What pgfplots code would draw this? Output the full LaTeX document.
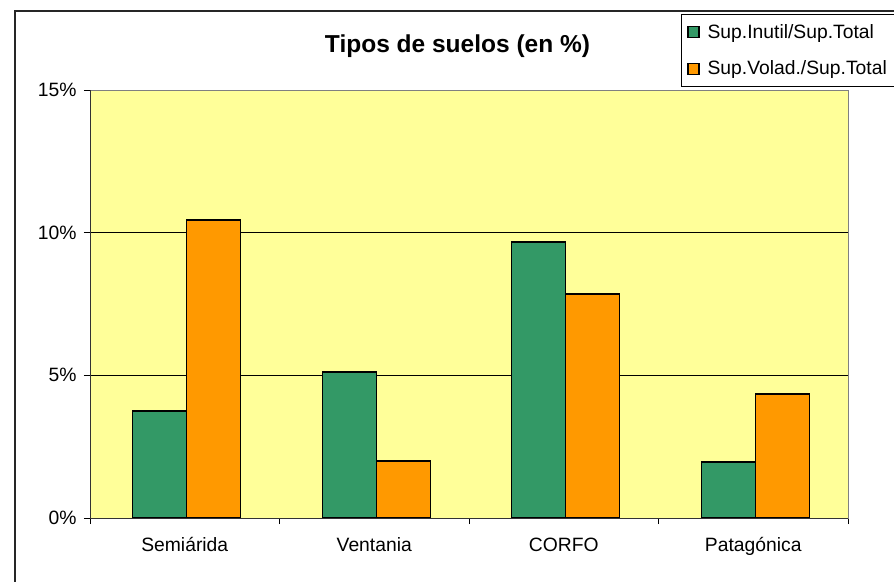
\documentclass[border=0pt]{standalone}
\usepackage{fontspec}
\setmainfont{Liberation Sans}
\usepackage{pgfplots}
\pgfplotsset{compat=1.18}
\definecolor{barGreen}{HTML}{339966}
\definecolor{barOrange}{HTML}{FF9900}
\definecolor{plotBg}{HTML}{FFFF99}

\begin{document}
\begin{tikzpicture}[x=1pt,y=1pt]
  \useasboundingbox (0,0) rectangle (894,-581);
  % chart area frame (right and bottom edges lie outside the picture)
  \draw[line width=1.3pt, black!85] (15,-600) -- (15,-11) -- (910,-11);
  \node[font=\fontsize{24.5}{29}\selectfont\bfseries, anchor=base] at (457.5,-52) {Tipos de suelos (en \%)};
  \begin{axis}[
      at={(90pt,-518pt)}, anchor=south west,
      scale only axis, width=758pt, height=428pt,
      xmin=-0.5, xmax=3.5, ymin=0, ymax=15,
      ybar=0pt, bar width=54pt,
      axis background/.style={fill=plotBg},
      axis line style={draw=gray, line width=1pt},
      ytick={0,5,10,15}, yticklabels={0\%,5\%,10\%,15\%},
      extra y ticks={5,10}, extra y tick labels={},
      extra y tick style={grid=major},
      grid style={black, line width=0.8pt},
      xtick={0,1,2,3}, xticklabels={Semiárida,Ventania,CORFO,Patagónica},
      minor xtick={-0.5,0.5,1.5,2.5,3.5},
      major x tick style={draw=none},
      tick align=outside, tick pos=left,
      major tick length=6pt, minor tick length=6pt,
      tick style={black, line width=0.8pt},
      ticklabel style={font=\fontsize{19.3}{23}\selectfont},
      xticklabel style={yshift=-10pt},
      yticklabel style={xshift=-4pt},
      /pgf/number format/assume math mode=true,
      legend style={at={(0.7797,1.1776)}, anchor=north west,
        draw=black, line width=0.8pt, fill=white,
        font=\fontsize{19.3}{23}\selectfont,
        inner xsep=6pt, inner ysep=8pt, row sep=17pt, column sep=6pt,
        nodes={inner sep=2pt}},
      legend cell align=left,
      legend image code/.code={\draw[#1, line width=1.2pt] (0pt,-5.5pt) rectangle (11pt,5.5pt);},
    ]
    \addplot[fill=barGreen, draw=black, line width=1.3pt, bar shift=-25pt]
      coordinates {(0,3.75) (1,5.12) (2,9.67) (3,1.96)};
    \addlegendentry{Sup.Inutil/Sup.Total}
    \addplot[fill=barOrange, draw=black, line width=1.3pt, bar shift=29pt]
      coordinates {(0,10.44) (1,2.00) (2,7.85) (3,4.35)};
    \addlegendentry{Sup.Volad./Sup.Total}
    \draw[black!80, line width=1pt] (rel axis cs:0,1) -- (rel axis cs:0,0) -- (rel axis cs:1,0);
  \end{axis}
\end{tikzpicture}
\end{document}
